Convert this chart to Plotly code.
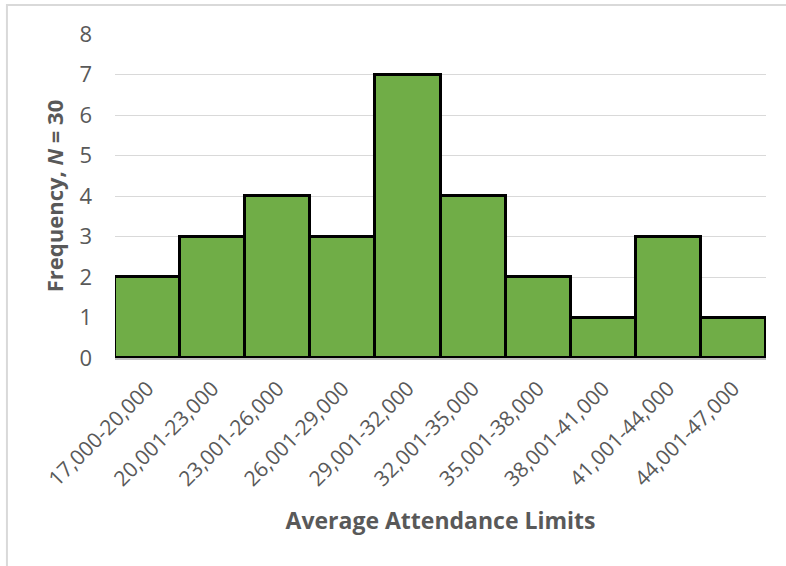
import plotly.graph_objects as go

# Attendance bins and their counts
bins = ["17,000-20,000", "20,001-23,000", "23,001-26,000", "26,001-29,000",
        "29,001-32,000", "32,001-35,000", "35,001-38,000", "38,001-41,000",
        "41,001-44,000", "44,001-47,000"]
counts = [2, 3, 4, 3, 7, 4, 2, 1, 3, 1]
y_ticks = [0, 1, 2, 3, 4, 5, 6, 7, 8]

text_col = "#595959"
font_family = "'Open Sans', Lato, sans-serif"

fig = go.Figure(go.Bar(
    x=bins,
    y=counts,
    marker=dict(color="#70AD47", line=dict(color="black", width=3)),
))

fig.update_layout(
    width=786, height=566,
    margin=dict(l=115, r=20, t=34, b=208),
    paper_bgcolor="white", plot_bgcolor="white",
    bargap=0,
    showlegend=False,
    font=dict(family=font_family, color=text_col, size=20),
    shapes=[dict(type="rect", xref="paper", yref="paper",
                 x0=-0.166, x1=1.05, y0=-0.7, y1=1.0895,
                 line=dict(color="#D9D9D9", width=2), layer="below")],
)

fig.update_xaxes(
    tickangle=-45,
    tickfont=dict(size=21, color=text_col),
    showline=True, linecolor="#BFBFBF", linewidth=2,
    ticks="", showgrid=False, ticklabelstandoff=8,
    title=dict(text="<b>Average Attendance Limits</b>",
               font=dict(size=23, color=text_col), standoff=22),
)

fig.update_yaxes(
    range=[0, 8], tickvals=y_ticks,
    tickfont=dict(size=22, color=text_col),
    showgrid=True, gridcolor="#D9D9D9", gridwidth=1,
    zeroline=False, ticks="", ticklabelstandoff=22,
    title=dict(text="<b>Frequency, <i>N</i> = 30</b>",
               font=dict(size=22, color=text_col), standoff=9),
)

fig.write_html("out.html")
